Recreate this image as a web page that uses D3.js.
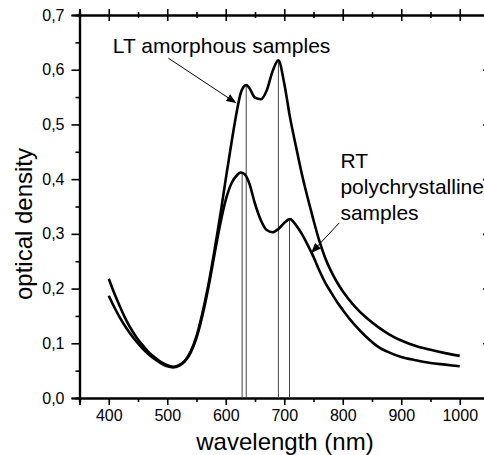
<!DOCTYPE html>
<html>
<head>
<meta charset="utf-8">
<script src="https://cdn.jsdelivr.net/npm/d3@7"></script>
<style>
  body { margin: 0; background: #fff; }
  text { font-family: "Liberation Sans", Arial, sans-serif; fill: #000; }
</style>
</head>
<body>
<script>
// wavelength grid (nm) shared by both spectra
var wavelength = [400, 410, 420, 430, 440, 450, 460, 470, 480, 490, 500, 510, 520, 530, 540, 550, 560, 570, 580, 590,
                  600, 610, 620, 625, 630, 635, 640, 650, 660, 670, 680, 690, 700, 710, 720, 730, 740, 750, 760, 770,
                  780, 790, 800, 820, 840, 860, 880, 900, 925, 950, 975, 1000];

// LT amorphous samples
var ltDensity = [0.218, 0.190, 0.165, 0.142, 0.123, 0.107, 0.094, 0.082, 0.073, 0.065, 0.060, 0.057, 0.060, 0.068, 0.085, 0.113, 0.155, 0.205, 0.265, 0.330,
                 0.400, 0.468, 0.530, 0.555, 0.568, 0.572, 0.567, 0.549, 0.546, 0.562, 0.597, 0.617, 0.575, 0.512, 0.460, 0.410, 0.366, 0.325, 0.287, 0.256,
                 0.232, 0.212, 0.195, 0.168, 0.147, 0.130, 0.116, 0.105, 0.095, 0.088, 0.082, 0.077];

// RT polychrystalline samples
var rtDensity = [0.187, 0.165, 0.145, 0.128, 0.113, 0.100, 0.088, 0.078, 0.070, 0.063, 0.058, 0.056, 0.059, 0.067, 0.083, 0.110, 0.150, 0.200, 0.258, 0.315,
                 0.362, 0.393, 0.408, 0.412, 0.411, 0.405, 0.393, 0.355, 0.325, 0.307, 0.303, 0.309, 0.320, 0.327, 0.316, 0.300, 0.280, 0.258, 0.233, 0.211,
                 0.193, 0.176, 0.161, 0.134, 0.112, 0.094, 0.083, 0.075, 0.069, 0.064, 0.061, 0.058];

// peak markers (vertical lines)
var peakWavelength = [628, 635, 690, 709];
var peakDensity = [0.411, 0.572, 0.617, 0.327];

var xTicks = [400, 500, 600, 700, 800, 900, 1000];
var yTicks = [0, 0.1, 0.2, 0.3, 0.4, 0.5, 0.6, 0.7];

var totalWidth = 484;
var totalHeight = 455;

var svg = d3.select("body")
    .append("svg")
    .attr("width", totalWidth)
    .attr("height", totalHeight);

var xScale = d3.scaleLinear()
    .domain([350, 1050])
    .range([79.5, 489]);

var yScale = d3.scaleLinear()
    .domain([0, 0.7])
    .range([398, 15]);

var fmtY = function(d){ return d3.format(".1f")(d).replace(".", ","); };

// minor ticks
var xMinor = d3.range(350, 1051, 50).filter(function(d){ return xTicks.indexOf(d) < 0; });
var yMinor = d3.range(0.05, 0.7, 0.1);

// bottom axis
var xAxisg = svg.append("g")
    .attr("transform", "translate(0," + yScale(0) + ")");
d3.axisBottom(xScale).tickValues(xMinor).tickSize(4).tickFormat("")(xAxisg);
var xAxisMajor = svg.append("g")
    .attr("transform", "translate(0," + yScale(0) + ")");
d3.axisBottom(xScale).tickValues(xTicks).tickSize(7).tickPadding(5).tickFormat(d3.format("d"))(xAxisMajor);

// top axis, ticks crossing the line
var topg = svg.append("g")
    .attr("transform", "translate(0," + yScale(0.7) + ")");
d3.axisTop(xScale).tickValues(xTicks).tickSize(6).tickFormat("")(topg);
topg.selectAll(".tick line").attr("y2", 6).attr("y1", -6);
var topMinor = svg.append("g")
    .attr("transform", "translate(0," + yScale(0.7) + ")");
d3.axisTop(xScale).tickValues(xMinor).tickSize(3).tickFormat("")(topMinor);
topMinor.selectAll(".tick line").attr("y2", 3).attr("y1", -3);

// left axis
var yAxisg = svg.append("g")
    .attr("transform", "translate(" + xScale(350) + ",0)");
d3.axisLeft(yScale).tickValues(yMinor).tickSize(4).tickFormat("")(yAxisg);
var yAxisMajor = svg.append("g")
    .attr("transform", "translate(" + xScale(350) + ",0)");
d3.axisLeft(yScale).tickValues(yTicks).tickSize(8).tickPadding(7).tickFormat(fmtY)(yAxisMajor);

// right axis (mostly off the edge)
var rightg = svg.append("g")
    .attr("transform", "translate(" + xScale(1050) + ",0)");
d3.axisRight(yScale).tickValues(yTicks).tickSize(6).tickFormat("")(rightg);
rightg.selectAll(".tick line").attr("x1", -6);

svg.selectAll(".domain")
    .attr("stroke", "#000")
    .attr("stroke-width", 2.2);
svg.selectAll(".tick line")
    .attr("stroke", "#000")
    .attr("stroke-width", 1.6);
svg.selectAll(".tick text")
    .style("font-size", "16px")
    .attr("fill", "#000");

// peak lines
svg.selectAll(".peak")
    .data(peakWavelength)
    .enter().append("line")
    .attr("class", "peak")
    .attr("x1", function(d){ return xScale(d); })
    .attr("x2", function(d){ return xScale(d); })
    .attr("y1", yScale(0))
    .attr("y2", function(d, i){ return yScale(peakDensity[i]); })
    .attr("stroke", "#444")
    .attr("stroke-width", 1);

var lineGen = d3.line()
    .x(function(d, i){ return xScale(wavelength[i]); })
    .y(function(d){ return yScale(d); })
    .curve(d3.curveMonotoneX);

[ltDensity, rtDensity].forEach(function(series){
  svg.append("path")
      .attr("d", lineGen(series))
      .attr("fill", "none")
      .attr("stroke", "#000")
      .attr("stroke-width", 2.6)
      .attr("stroke-linejoin", "round");
});

// axis titles
svg.append("text")
    .attr("x", 285)
    .attr("y", 450)
    .attr("text-anchor", "middle")
    .style("font-size", "24px")
    .text("wavelength (nm)");

svg.append("text")
    .attr("transform", "translate(32,224) rotate(-90)")
    .attr("text-anchor", "middle")
    .style("font-size", "24px")
    .text("optical density");

// annotations
svg.append("defs").append("marker")
    .attr("id", "head")
    .attr("viewBox", "0 0 10 8")
    .attr("refX", 10)
    .attr("refY", 4)
    .attr("markerWidth", 10)
    .attr("markerHeight", 8)
    .attr("markerUnits", "userSpaceOnUse")
    .attr("orient", "auto")
  .append("path")
    .attr("d", "M0,0L10,4L0,8Z")
    .attr("fill", "#000");

svg.append("text")
    .attr("x", xScale(407))
    .attr("y", yScale(0.63))
    .style("font-size", "21px")
    .text("LT amorphous samples");

svg.append("line")
    .attr("x1", xScale(502)).attr("y1", yScale(0.621))
    .attr("x2", xScale(618)).attr("y2", yScale(0.539))
    .attr("stroke", "#000").attr("stroke-width", 1)
    .attr("marker-end", "url(#head)");

var rtText = svg.append("text")
    .attr("x", xScale(796))
    .attr("y", yScale(0.42))
    .style("font-size", "21px");
["RT", "polychrystalline", "samples"].forEach(function(s, i){
  rtText.append("tspan")
      .attr("x", xScale(796))
      .attr("dy", i == 0 ? 0 : 26)
      .text(s);
});

svg.append("line")
    .attr("x1", xScale(794)).attr("y1", yScale(0.32))
    .attr("x2", xScale(746)).attr("y2", yScale(0.265))
    .attr("stroke", "#000").attr("stroke-width", 1)
    .attr("marker-end", "url(#head)");
</script>
</body>
</html>
